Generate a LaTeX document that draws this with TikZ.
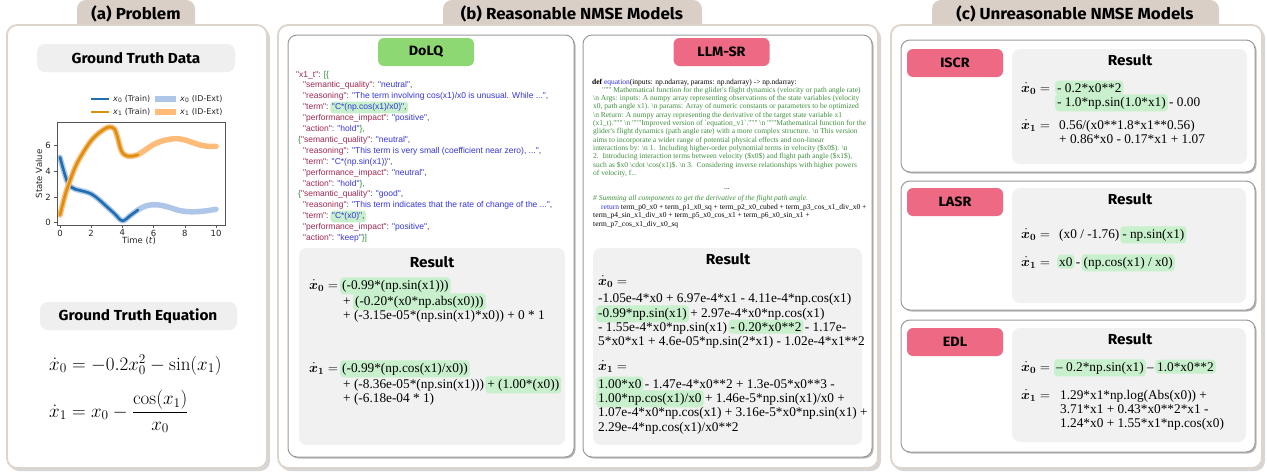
\documentclass[tikz,border=0pt]{standalone}
\usepackage{fix-cm}
\usepackage{amsmath,bm}
\usepackage{fontspec}
\newfontfamily\hfont{Fira Sans}[FakeStretch=1.06]
\newfontfamily\codefont{Liberation Sans}
\newfontfamily\eqfont{Liberation Serif}
\newfontfamily\mplfont{DejaVu Sans}
\definecolor{tabc}{HTML}{D9CFC7}
\definecolor{panelb}{HTML}{DDD4CC}
\definecolor{cardb}{HTML}{9A9A9A}
\definecolor{hdrc}{HTML}{EFEFEF}
\definecolor{resc}{HTML}{F1F1F1}
\definecolor{hlc}{HTML}{C8F0CC}
\definecolor{pinkc}{HTML}{EE6A84}
\definecolor{greenc}{HTML}{8ED873}
\definecolor{keyc}{HTML}{A3284F}
\definecolor{valc}{HTML}{3535DD}
\definecolor{brc}{HTML}{2E8B3A}
\definecolor{docc}{HTML}{3F8F3F}
\definecolor{kwc}{HTML}{2F2FE0}
\definecolor{bdark}{HTML}{1F6EAE}
\definecolor{blight}{HTML}{AEC7E8}
\definecolor{odark}{HTML}{DA8F0E}
\definecolor{olight}{HTML}{FFBB78}
\definecolor{axc}{HTML}{555555}
\newcommand\Kq[1]{\textcolor{keyc}{"#1"}}
\newcommand\Vq[1]{\textcolor{valc}{"#1"}}
\newcommand\Gq[1]{\textcolor{brc}{#1}}
\newcommand\xd[1]{$\dot{\bm{x}}_{\bm{#1}}=$}
\tikzset{
  panel/.style={draw=panelb, line width=1.8pt, fill=white, rounded corners=10pt},
  pshadow/.style={fill=black, opacity=0.16, rounded corners=10pt},
  tabbox/.style={fill=tabc, rounded corners=9pt},
  card/.style={draw=cardb, line width=1pt, fill=white, rounded corners=9pt},
  cshadow/.style={fill=black, opacity=0.28, rounded corners=9pt},
  hdr/.style={fill=hdrc, rounded corners=8pt},
  resbox/.style={fill=resc, rounded corners=8pt},
  ttl/.style={font=\hfont\bfseries\fontsize{16}{19}\selectfont, inner sep=0pt},
  hdrtxt/.style={font=\hfont\bfseries\fontsize{14.5}{16}\selectfont, inner sep=0pt},
  restitle/.style={font=\hfont\bfseries\fontsize{14.5}{16}\selectfont, inner sep=0pt},
  tagbox/.style={rounded corners=6pt, minimum width=96pt, minimum height=28pt, inner sep=0pt, font=\hfont\bfseries\fontsize{13.5}{16}\selectfont},
  code/.style={font=\codefont\fontsize{8.5}{10}\selectfont, anchor=base west, inner sep=0pt, text=black!80},
  codehl/.style={code, fill=hlc, rounded corners=3pt, inner xsep=1.5pt, inner ysep=2pt},
  lcode/.style={font=\eqfont\fontsize{7.5}{8}\selectfont, anchor=base west, inner sep=0pt},
  doc/.style={lcode, text=docc},
  eq/.style={font=\eqfont\fontsize{13.3}{15}\selectfont, anchor=base west, inner sep=0pt},
  hl/.style={eq, fill=hlc, rounded corners=3.5pt, inner xsep=2pt, inner ysep=2.5pt},
  eqlab/.style={font=\fontsize{13.5}{15}\selectfont, anchor=base west, inner sep=0pt},
  mpl/.style={font=\mplfont\fontsize{8.5}{10}\selectfont, inner sep=0pt, text=black!85},
  leg/.style={font=\mplfont\fontsize{8}{10}\selectfont, inner sep=0pt, anchor=west, text=black!85},
}
\begin{document}
\begin{tikzpicture}[x=1pt,y=-1pt]
\useasboundingbox (0,0) rectangle (1267,472);
% ---------- tabs ----------
\fill[tabbox] (77,0) rectangle (195,40);
\fill[tabbox] (443,0) rectangle (702,40);
\fill[tabbox] (932,0) rectangle (1219,40);
% ---------- panels ----------
\fill[pshadow] (9,28) rectangle (270,471);
\fill[pshadow] (280,28) rectangle (881,471);
\fill[pshadow] (893,28) rectangle (1265,471);
\draw[panel] (7,25) rectangle (267,468);
\draw[panel] (278,25) rectangle (878,468);
\draw[panel] (891,25) rectangle (1262,468);
\node[ttl] (ta) at (136,14) {(a) Problem};
\node[ttl] (tb) at (572,14) {(b) Reasonable NMSE Models};
\node[ttl] (tc) at (1075,14) {(c) Unreasonable NMSE Models};

% ================= (a) =================
\fill[hdr] (37,44) rectangle (235,72);
\node[hdrtxt] (gtd) at (136,58) {Ground Truth Data};
\fill[hdr] (40,302) rectangle (237,330);
\node[hdrtxt] (gte) at (138,316) {Ground Truth Equation};

% plot curves
\begin{scope}[shift={(60,222.7)}, x=15.6pt, y=12.83pt, line cap=round, line join=round]
  \draw[blight, line width=5.5pt] plot[smooth, tension=0.6] coordinates {(0,5.1) (0.25,4.0) (0.5,3.1) (0.75,2.75) (1,2.6) (1.5,2.45) (2,2.25) (2.5,1.8) (3,1.25) (3.5,0.7) (4,0.15) (4.5,0.55) (5,1.0) (5.5,1.3) (6,1.4) (6.5,1.35) (7,1.2) (7.5,1.0) (8,0.88) (8.5,0.85) (9,0.88) (9.5,0.95) (10,1.05)};
  \draw[bdark, line width=2.6pt] plot[smooth, tension=0.6] coordinates {(0,5.1) (0.25,4.0) (0.5,3.1) (0.75,2.75) (1,2.6) (1.5,2.45) (2,2.25) (2.5,1.8) (3,1.25) (3.5,0.7) (4,0.15) (4.5,0.55) (5,1.0)};
  \draw[olight, line width=5.5pt] plot[smooth, tension=0.6] coordinates {(0,0.6) (0.25,1.8) (0.5,2.8) (1,4.4) (1.5,5.5) (2,6.4) (2.5,7.0) (3,7.4) (3.3,7.45) (3.5,7.3) (3.7,6.6) (3.85,5.9) (4,5.45) (4.3,5.2) (4.7,5.2) (5,5.3) (5.5,5.7) (6,6.1) (6.5,6.35) (7,6.5) (7.5,6.55) (8,6.45) (8.5,6.25) (9,6.05) (9.5,5.95) (10,5.95)};
  \draw[odark, line width=2.6pt] plot[smooth, tension=0.6] coordinates {(0,0.6) (0.25,1.8) (0.5,2.8) (1,4.4) (1.5,5.5) (2,6.4) (2.5,7.0) (3,7.4) (3.3,7.45) (3.5,7.3) (3.7,6.6) (3.85,5.9) (4,5.45) (4.3,5.2) (4.7,5.2) (5,5.3)};
\end{scope}
\draw[axc, line width=0.6pt] (57,122) rectangle (225,225);
\foreach \t in {0,2,4,6,8,10}{
  \draw[axc, line width=0.6pt] ({60+15.6*\t},225) -- ++(0,3);
  \node[mpl, anchor=north] (xt\t) at ({60+15.6*\t},229.5) {\t};
}
\foreach \v in {0,2,4,6}{
  \draw[axc, line width=0.6pt] (57,{222.7-12.83*\v}) -- ++(-3,0);
  \node[mpl, anchor=east] (yt\v) at (51,{222.7-12.83*\v}) {\v};
}
\node[mpl, rotate=90] (ylab) at (39,174) {State Value};
\node[mpl] (xlab) at (139,241) {Time (\textit{t})};
% legend
\draw[bdark, line width=2.6pt] (91,99) -- (109,99);
\node[leg] (lg1) at (113,99) {\textit{x}\textsubscript{0} (Train)};
\draw[blight, line width=5.5pt] (155,99) -- (176,99);
\node[leg] (lg2) at (180,99) {\textit{x}\textsubscript{0} (ID-Ext)};
\draw[odark, line width=2.6pt] (91,112) -- (109,112);
\node[leg] (lg3) at (113,112) {\textit{x}\textsubscript{1} (Train)};
\draw[olight, line width=5.5pt] (155,112) -- (176,112);
\node[leg] (lg4) at (180,112) {\textit{x}\textsubscript{1} (ID-Ext)};
% equations
\node[anchor=base west, inner sep=0pt, font=\fontsize{19}{22}\selectfont] (gt0) at (49,370) {$\dot{x}_0 = -0.2x_0^2 - \sin(x_1)$};
\node[anchor=base west, inner sep=0pt, font=\fontsize{19}{22}\selectfont] (gt1) at (49,417) {$\dot{x}_1 = x_0 - \dfrac{\cos(x_1)}{x_0}$};

% ================= (b) =================
\fill[cshadow] (289.5,36.5) rectangle (575.5,458.5);
\draw[card] (288,35) rectangle (574,457);
\fill[cshadow] (584.5,36.5) rectangle (873.5,458.5);
\draw[card] (583,35) rectangle (872,457);
\node[tagbox, fill=greenc] (dolq) at (426,52) {DoLQ};
\node[tagbox, fill=pinkc] (llmsr) at (721.5,52) {LLM-SR};

% DoLQ code
\node[code] (c0) at (296,77) {\Kq{x1\_t}: \Gq{[\{}};
\node[code] (c1) at (303,87.9) {\Kq{semantic\_quality}: \Vq{neutral},};
\node[code] (c2) at (303,98.8) {\Kq{reasoning}: \Vq{The term involving cos(x1)/x0 is unusual. While ...},};
\node[code] (c3) at (303,109.7) {\Kq{term}:};
\node[codehl] (c3h) at ([xshift=1.5pt]c3.base east) {\Vq{C*(np.cos(x1)/x0)},};
\node[code] (c4) at (303,120.6) {\Kq{performance\_impact}: \Vq{positive},};
\node[code] (c5) at (303,131.5) {\Kq{action}: \Vq{hold}\Gq{\},}};
\node[code] (c6) at (298,142.4) {\Gq{\{}\Kq{semantic\_quality}: \Vq{neutral},};
\node[code] (c7) at (303,153.3) {\Kq{reasoning}: \Vq{This term is very small (coefficient near zero), ...},};
\node[code] (c8) at (303,164.2) {\Kq{term}: \Vq{C*(np.sin(x1))},};
\node[code] (c9) at (303,175.1) {\Kq{performance\_impact}: \Vq{neutral},};
\node[code] (c10) at (303,186.0) {\Kq{action}: \Vq{hold}\Gq{\},}};
\node[code] (c11) at (298,196.9) {\Gq{\{}\Kq{semantic\_quality}: \Vq{good},};
\node[code] (c12) at (303,207.8) {\Kq{reasoning}: \Vq{This term indicates that the rate of change of the ...},};
\node[code] (c13) at (303,218.7) {\Kq{term}:};
\node[codehl] (c13h) at ([xshift=1.5pt]c13.base east) {\Vq{C*(x0)},};
\node[code] (c14) at (303,229.6) {\Kq{performance\_impact}: \Vq{positive},};
\node[code] (c15) at (303,240.5) {\Kq{action}: \Vq{keep}\Gq{\}]}};

% DoLQ result
\fill[resbox] (299,248) rectangle (565,445);
\node[restitle] (dres) at (432,262) {Result};
\node[eqlab] (d0) at (309,289) {\xd0};
\node[hl] (d0a) at (340,289) {(-0.99*(np.sin(x1)))};
\node[eq] (d0b) at (343,305) {+};
\node[hl] (d0c) at ([xshift=2pt]d0b.base east) {(-0.20*(x0*np.abs(x0)))};
\node[eq] (d0d) at (343,319) {+ (-3.15e-05*(np.sin(x1)*x0)) + 0 * 1};
\node[eqlab] (d1) at (309,372) {\xd1};
\node[hl] (d1a) at (340,372) {(-0.99*(np.cos(x1)/x0))};
\node[eq] (d1b) at (343,388) {+ (-8.36e-05*(np.sin(x1)))};
\node[hl] (d1c) at ([xshift=1pt]d1b.base east) {+ (1.00*(x0))};
\node[eq] (d1d) at (343,402) {+ (-6.18e-04 * 1)};

% LLM-SR code
\node[lcode] (m0) at (592,84) {{\bfseries def} \textcolor{kwc}{equation}(inputs: np.ndarray, params: np.ndarray) -> np.ndarray:};
\node[doc] (m1) at (602,92.3) {""" Mathematical function for the glider's flight dynamics (velocity or path angle rate)};
\node[doc] (m2) at (593,100.6) {\textbackslash n Args: inputs: A numpy array representing observations of the state variables (velocity};
\node[doc] (m3) at (593,108.9) {x0, path angle x1). \textbackslash n params: Array of numeric constants or parameters to be optimized};
\node[doc] (m4) at (593,117.2) {\textbackslash n Return: A numpy array representing the derivative of the target state variable x1};
\node[doc] (m5) at (593,125.5) {(x1\_t).""" \textbackslash n """Improved version of \textasciigrave equation\_v1\textasciigrave.""" \textbackslash n """Mathematical function for the};
\node[doc] (m6) at (593,133.8) {glider's flight dynamics (path angle rate) with a more complex structure. \textbackslash n This version};
\node[doc] (m7) at (593,142.1) {aims to incorporate a wider range of potential physical effects and non-linear};
\node[doc] (m8) at (593,150.4) {interactions by: \textbackslash n 1.\ \ Including higher-order polynomial terms in velocity (\$x0\$). \textbackslash n};
\node[doc] (m9) at (593,158.7) {2.\ \ Introducing interaction terms between velocity (\$x0\$) and flight path angle (\$x1\$),};
\node[doc] (m10) at (593,167.0) {such as \$x0 \textbackslash cdot \textbackslash cos(x1)\$. \textbackslash n 3.\ \ Considering inverse relationships with higher powers};
\node[doc] (m11) at (593,175.3) {of velocity, f...};
\node[lcode, anchor=base] (m12) at (727,189) {...};
\node[doc] (m13) at (593,200) {\itshape \# Summing all components to get the derivative of the flight path angle.};
\node[lcode] (m14) at (601,209) {\textcolor{kwc}{return} term\_p0\_x0 + term\_p1\_x0\_sq + term\_p2\_x0\_cubed + term\_p3\_cos\_x1\_div\_x0 +};
\node[lcode] (m15) at (593,217.5) {term\_p4\_sin\_x1\_div\_x0 + term\_p5\_x0\_cos\_x1 + term\_p6\_x0\_sin\_x1 +};
\node[lcode] (m16) at (593,226) {term\_p7\_cos\_x1\_div\_x0\_sq};

% LLM-SR result
\fill[resbox] (593,248) rectangle (862,445);
\node[restitle] (lres) at (728,259) {Result};
\node[eqlab] (l0) at (598,285) {\xd0};
\node[eq] (l0a) at (598,302) {-1.05e-4*x0 + 6.97e-4*x1 - 4.11e-4*np.cos(x1)};
\node[hl] (l0b) at (596,317) {-0.99*np.sin(x1)};
\node[eq] (l0c) at ([xshift=1pt]l0b.base east) {+ 2.97e-4*x0*np.cos(x1)};
\node[eq] (l0d) at (598,331) {- 1.55e-4*x0*np.sin(x1)};
\node[hl] (l0e) at ([xshift=1pt]l0d.base east) {- 0.20*x0**2};
\node[eq] (l0f) at ([xshift=1pt]l0e.base east) {- 1.17e-};
\node[eq] (l0g) at (598,345) {5*x0*x1 + 4.6e-05*np.sin(2*x1) - 1.02e-4*x1**2};
\node[eqlab] (l1) at (598,370) {\xd1};
\node[hl] (l1a) at (596,388) {1.00*x0};
\node[eq] (l1b) at ([xshift=1pt]l1a.base east) {- 1.47e-4*x0**2 + 1.3e-05*x0**3 -};
\node[hl] (l1c) at (596,402) {1.00*np.cos(x1)/x0};
\node[eq] (l1d) at ([xshift=1pt]l1c.base east) {+ 1.46e-5*np.sin(x1)/x0 +};
\node[eq] (l1e) at (598,416) {1.07e-4*x0*np.cos(x1) + 3.16e-5*x0*np.sin(x1) +};
\node[eq] (l1f) at (598,431) {2.29e-4*np.cos(x1)/x0**2};

% ================= (c) =================
\fill[cshadow] (902.5,41.5) rectangle (1256.5,173.5);
\draw[card] (901,40) rectangle (1255,172);
\fill[cshadow] (902.5,182.5) rectangle (1256.5,311.5);
\draw[card] (901,181) rectangle (1255,310);
\fill[cshadow] (902.5,321.5) rectangle (1256.5,453.5);
\draw[card] (901,320) rectangle (1255,452);

\node[tagbox, fill=pinkc] (iscr) at (955,63) {ISCR};
\node[tagbox, fill=pinkc] (lasr) at (955,202) {LASR};
\node[tagbox, fill=pinkc] (edl) at (955,342) {EDL};

% ISCR
\fill[resbox] (1012,49) rectangle (1247,164);
\node[restitle] (ires) at (1130,60) {Result};
\node[eqlab] (i0) at (1021,92) {\xd0};
\node[hl] (i0a) at (1055,92) {- 0.2*x0**2\hspace{5pt}};
\node[hl] (i0b) at (1055,106) {- 1.0*np.sin(1.0*x1)};
\node[eq] (i0c) at ([xshift=1pt]i0b.base east) {- 0.00};
\node[eqlab] (i1) at (1021,129) {\xd1};
\node[eq] (i1a) at (1059,129) {0.56/(x0**1.8*x1**0.56)};
\node[eq] (i1b) at (1059,143) {+ 0.86*x0 - 0.17*x1 + 1.07};

% LASR
\fill[resbox] (1012,188) rectangle (1246,303);
\node[restitle] (sres) at (1130,199) {Result};
\node[eqlab] (s0) at (1021,238) {\xd0};
\node[eq] (s0a) at (1059,238) {(x0 / -1.76)};
\node[hl] (s0b) at ([xshift=0.5pt]s0a.base east) {- np.sin(x1)};
\node[eqlab] (s1) at (1021,266) {\xd1};
\node[hl] (s1a) at (1057,266) {x0};
\node[eq] (s1b) at ([xshift=1pt]s1a.base east) {-};
\node[hl] (s1c) at ([xshift=1pt]s1b.base east) {(np.cos(x1) / x0)};

% EDL
\fill[resbox] (1012,328) rectangle (1246,442);
\node[restitle] (eres) at (1130,339) {Result};
\node[eqlab] (e0) at (1021,371) {\xd0};
\node[hl] (e0a) at (1054,371) {\textendash{} 0.2*np.sin(x1)};
\node[eq] (e0b) at ([xshift=1pt]e0a.base east) {\textendash};
\node[hl] (e0c) at ([xshift=1pt]e0b.base east) {1.0*x0**2};
\node[eqlab] (e1) at (1021,399) {\xd1};
\node[eq] (e1a) at (1060,399) {1.29*x1*np.log(Abs(x0)) +};
\node[eq] (e1b) at (1060,413) {3.71*x1 + 0.43*x0**2*x1 -};
\node[eq] (e1c) at (1060,427) {1.24*x0 + 1.55*x1*np.cos(x0)};
\end{tikzpicture}
\end{document}
